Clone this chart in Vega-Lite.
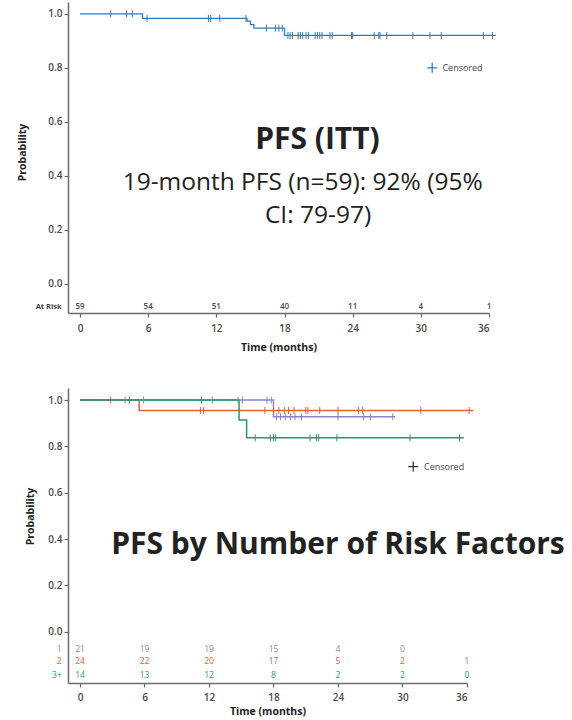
{
  "$schema": "https://vega.github.io/schema/vega-lite/v6.json",
  "padding": {"left": 17, "top": 2, "right": 0, "bottom": 0},
  "spacing": 35,
  "config": {
    "view": {"stroke": null},
    "font": "Open Sans",
    "axis": {
      "grid": false,
      "domainColor": "#6b6b6b",
      "domainWidth": 1.5,
      "tickColor": "#6b6b6b",
      "tickWidth": 1.2,
      "tickSize": 4,
      "labelFont": "Open Sans",
      "labelFontSize": 10,
      "labelFontWeight": 600,
      "labelColor": "#4a4a4a",
      "titleFont": "Open Sans",
      "titleFontSize": 10.5,
      "titleFontWeight": "bold",
      "titleColor": "#222222"
    }
  },
  "datasets": {
    "itt_curve": [
      {"t": 0, "s": 1},
      {"t": 5.5, "s": 0.983},
      {"t": 14.7, "s": 0.973},
      {"t": 15.0, "s": 0.96},
      {"t": 15.3, "s": 0.947},
      {"t": 18.0, "s": 0.92},
      {"t": 36.6, "s": 0.92}
    ],
    "itt_cens": [
      {"t": 2.7, "s": 1}, {"t": 4.1, "s": 1}, {"t": 4.6, "s": 1},
      {"t": 5.9, "s": 0.983}, {"t": 11.3, "s": 0.983}, {"t": 11.5, "s": 0.983}, {"t": 12.3, "s": 0.983}, {"t": 14.6, "s": 0.983},
      {"t": 16.4, "s": 0.947}, {"t": 17.2, "s": 0.947}, {"t": 17.5, "s": 0.947}, {"t": 17.8, "s": 0.947},
      {"t": 18.3, "s": 0.92}, {"t": 18.5, "s": 0.92}, {"t": 18.7, "s": 0.92}, {"t": 19.2, "s": 0.92}, {"t": 19.4, "s": 0.92},
      {"t": 19.6, "s": 0.92}, {"t": 19.9, "s": 0.92}, {"t": 20.1, "s": 0.92}, {"t": 20.7, "s": 0.92}, {"t": 20.9, "s": 0.92},
      {"t": 21.1, "s": 0.92}, {"t": 21.3, "s": 0.92}, {"t": 22.0, "s": 0.92}, {"t": 22.2, "s": 0.92}, {"t": 23.9, "s": 0.92},
      {"t": 24.0, "s": 0.92}, {"t": 25.9, "s": 0.92}, {"t": 26.3, "s": 0.92}, {"t": 26.4, "s": 0.92}, {"t": 27.0, "s": 0.92},
      {"t": 29.3, "s": 0.92}, {"t": 30.8, "s": 0.92}, {"t": 31.8, "s": 0.92}, {"t": 35.5, "s": 0.92}, {"t": 36.3, "s": 0.92}
    ],
    "itt_risk": [
      {"t": 0, "n": 59}, {"t": 6, "n": 54}, {"t": 12, "n": 51}, {"t": 18, "n": 40},
      {"t": 24, "n": 11}, {"t": 30, "n": 4}, {"t": 36, "n": 1}
    ],
    "rf_curve": [
      {"group": "1", "t": 0, "s": 1}, {"group": "1", "t": 18.0, "s": 0.928}, {"group": "1", "t": 29.3, "s": 0.928},
      {"group": "2", "t": 0, "s": 1}, {"group": "2", "t": 5.5, "s": 0.955}, {"group": "2", "t": 36.6, "s": 0.955},
      {"group": "3+", "t": 0, "s": 1}, {"group": "3+", "t": 14.8, "s": 0.914}, {"group": "3+", "t": 15.5, "s": 0.837}, {"group": "3+", "t": 35.7, "s": 0.837}
    ],
    "rf_cens": [
      {"group": "1", "t": 4.2, "s": 1}, {"group": "1", "t": 5.9, "s": 1}, {"group": "1", "t": 12.3, "s": 1}, {"group": "1", "t": 14.7, "s": 1},
      {"group": "1", "t": 15.1, "s": 1}, {"group": "1", "t": 17.4, "s": 1}, {"group": "1", "t": 17.8, "s": 1},
      {"group": "1", "t": 18.3, "s": 0.928}, {"group": "1", "t": 18.65, "s": 0.928}, {"group": "1", "t": 19.1, "s": 0.928},
      {"group": "1", "t": 19.6, "s": 0.928}, {"group": "1", "t": 20.0, "s": 0.928}, {"group": "1", "t": 20.6, "s": 0.928},
      {"group": "1", "t": 24.0, "s": 0.928}, {"group": "1", "t": 26.4, "s": 0.928}, {"group": "1", "t": 27.0, "s": 0.928},
      {"group": "1", "t": 29.1, "s": 0.928},
      {"group": "2", "t": 2.85, "s": 1},
      {"group": "2", "t": 11.2, "s": 0.955}, {"group": "2", "t": 11.5, "s": 0.955}, {"group": "2", "t": 17.2, "s": 0.955},
      {"group": "2", "t": 18.0, "s": 0.955}, {"group": "2", "t": 18.5, "s": 0.955}, {"group": "2", "t": 19.0, "s": 0.955},
      {"group": "2", "t": 19.4, "s": 0.955}, {"group": "2", "t": 19.9, "s": 0.955}, {"group": "2", "t": 21.0, "s": 0.955},
      {"group": "2", "t": 21.2, "s": 0.955}, {"group": "2", "t": 22.3, "s": 0.955}, {"group": "2", "t": 24.0, "s": 0.955},
      {"group": "2", "t": 25.9, "s": 0.955}, {"group": "2", "t": 26.3, "s": 0.955}, {"group": "2", "t": 31.7, "s": 0.955},
      {"group": "2", "t": 36.2, "s": 0.955},
      {"group": "3+", "t": 4.6, "s": 1}, {"group": "3+", "t": 11.3, "s": 1},
      {"group": "3+", "t": 16.3, "s": 0.837}, {"group": "3+", "t": 17.7, "s": 0.837}, {"group": "3+", "t": 18.0, "s": 0.837},
      {"group": "3+", "t": 18.2, "s": 0.837}, {"group": "3+", "t": 21.4, "s": 0.837}, {"group": "3+", "t": 22.0, "s": 0.837},
      {"group": "3+", "t": 22.2, "s": 0.837}, {"group": "3+", "t": 23.9, "s": 0.837}, {"group": "3+", "t": 30.7, "s": 0.837},
      {"group": "3+", "t": 35.3, "s": 0.837}
    ],
    "rf_risk": [
      {"group": "1", "t": 0, "n": 21}, {"group": "1", "t": 6, "n": 19}, {"group": "1", "t": 12, "n": 19}, {"group": "1", "t": 18, "n": 15},
      {"group": "1", "t": 24, "n": 4}, {"group": "1", "t": 30, "n": 0},
      {"group": "2", "t": 0, "n": 24}, {"group": "2", "t": 6, "n": 22}, {"group": "2", "t": 12, "n": 20}, {"group": "2", "t": 18, "n": 17},
      {"group": "2", "t": 24, "n": 5}, {"group": "2", "t": 30, "n": 2}, {"group": "2", "t": 36, "n": 1},
      {"group": "3+", "t": 0, "n": 14}, {"group": "3+", "t": 6, "n": 13}, {"group": "3+", "t": 12, "n": 12}, {"group": "3+", "t": 18, "n": 8},
      {"group": "3+", "t": 24, "n": 2}, {"group": "3+", "t": 30, "n": 2}, {"group": "3+", "t": 36, "n": 0}
    ]
  },
  "vconcat": [
    {
      "width": 421,
      "height": 311,
      "layer": [
        {
          "data": {"name": "itt_curve"},
          "mark": {"type": "line", "interpolate": "step-after", "color": "#2f7dbf", "strokeWidth": 1.3},
          "encoding": {
            "x": {"field": "t", "type": "quantitative",
              "scale": {"domain": [-1.06, 36], "nice": false, "zero": false},
              "axis": {"values": [0, 6, 12, 18, 24, 30, 36], "title": "Time (months)", "titlePadding": 9, "labelPadding": 6}},
            "y": {"field": "s", "type": "quantitative",
              "scale": {"domain": [-0.109, 1.044], "nice": false, "zero": false},
              "axis": {"values": [0, 0.2, 0.4, 0.6, 0.8, 1], "format": ".1f", "title": "Probability", "titleX": -41, "titleY": 150, "labelPadding": 2}}
          }
        },
        {
          "data": {"name": "itt_cens"},
          "mark": {"type": "point", "shape": "M0,-1V1", "size": 49, "filled": false, "stroke": "#2f7dbf", "strokeWidth": 1, "opacity": 1},
          "encoding": {
            "x": {"field": "t", "type": "quantitative"},
            "y": {"field": "s", "type": "quantitative"}
          }
        },
        {
          "data": {"name": "itt_risk"},
          "mark": {"type": "text", "fontSize": 8, "color": "#4a4a4a", "fontWeight": 600},
          "encoding": {
            "x": {"field": "t", "type": "quantitative"},
            "y": {"datum": -0.085, "type": "quantitative"},
            "text": {"field": "n"}
          }
        },
        {
          "data": {"values": [{}]},
          "mark": {"type": "text", "text": "At Risk", "align": "right", "fontSize": 7.5, "fontWeight": "bold", "color": "#444444"},
          "encoding": {"x": {"datum": -1.62, "type": "quantitative"}, "y": {"datum": -0.085, "type": "quantitative"}}
        },
        {
          "data": {"values": [{}]},
          "mark": {"type": "point", "shape": "M-1,0H1M0,-1V1", "size": 100, "filled": false, "stroke": "#2f7dbf", "strokeWidth": 1.3, "opacity": 1},
          "encoding": {"x": {"datum": 31.0, "type": "quantitative"}, "y": {"datum": 0.8, "type": "quantitative"}}
        },
        {
          "data": {"values": [{}]},
          "mark": {"type": "text", "text": "Censored", "align": "left", "fontSize": 9, "color": "#444444"},
          "encoding": {"x": {"datum": 31.9, "type": "quantitative"}, "y": {"datum": 0.8, "type": "quantitative"}}
        },
        {
          "data": {"values": [{}]},
          "mark": {"type": "text", "text": "PFS (ITT)", "align": "center", "baseline": "middle", "fontSize": 30, "fontWeight": "bold", "color": "#222222"},
          "encoding": {"x": {"datum": 20.9, "type": "quantitative"}, "y": {"datum": 0.533, "type": "quantitative"}}
        },
        {
          "data": {"values": [{}]},
          "mark": {"type": "text", "text": "19-month PFS (n=59): 92% (95%", "align": "center", "baseline": "middle", "fontSize": 24.5, "color": "#222222"},
          "encoding": {"x": {"datum": 19.6, "type": "quantitative"}, "y": {"datum": 0.374, "type": "quantitative"}}
        },
        {
          "data": {"values": [{}]},
          "mark": {"type": "text", "text": "CI: 79-97)", "align": "center", "baseline": "middle", "fontSize": 24.5, "color": "#222222"},
          "encoding": {"x": {"datum": 20.95, "type": "quantitative"}, "y": {"datum": 0.252, "type": "quantitative"}}
        }
      ]
    },
    {
      "width": 399,
      "height": 295,
      "layer": [
        {
          "data": {"name": "rf_curve"},
          "mark": {"type": "line", "interpolate": "step-after", "strokeWidth": 1.5},
          "encoding": {
            "x": {"field": "t", "type": "quantitative",
              "scale": {"domain": [-1.115, 36], "nice": false, "zero": false},
              "axis": {"values": [0, 6, 12, 18, 24, 30, 36], "title": "Time (months)", "titlePadding": 4, "labelPadding": 5}},
            "y": {"field": "s", "type": "quantitative",
              "scale": {"domain": [-0.221, 1.052], "nice": false, "zero": false},
              "axis": {"values": [0, 0.2, 0.4, 0.6, 0.8, 1], "format": ".1f", "title": "Probability", "titleX": -33, "titleY": 128, "labelPadding": 2}},
            "color": {"field": "group", "type": "nominal",
              "scale": {"domain": ["1", "2", "3+"], "range": ["#8a84c8", "#e2603a", "#1f9d6b"]}, "legend": null}
          }
        },
        {
          "data": {"name": "rf_cens"},
          "mark": {"type": "point", "shape": "M0,-1V1", "size": 49, "filled": false, "strokeWidth": 1, "opacity": 1},
          "encoding": {
            "x": {"field": "t", "type": "quantitative"},
            "y": {"field": "s", "type": "quantitative"},
            "stroke": {"field": "group", "type": "nominal",
              "scale": {"domain": ["1", "2", "3+"], "range": ["#8a84c8", "#e2603a", "#1f9d6b"]}, "legend": null}
          }
        },
        {
          "data": {"name": "rf_risk"},
          "transform": [{"filter": "datum.group === '1'"}],
          "mark": {"type": "text", "fontSize": 8.5, "color": "#8a84c8"},
          "encoding": {
            "x": {"field": "t", "type": "quantitative"},
            "y": {"datum": -0.073, "type": "quantitative"},
            "text": {"field": "n"}
          }
        },
        {
          "data": {"name": "rf_risk"},
          "transform": [{"filter": "datum.group === '2'"}],
          "mark": {"type": "text", "fontSize": 8.5, "color": "#e2603a"},
          "encoding": {
            "x": {"field": "t", "type": "quantitative"},
            "y": {"datum": -0.128, "type": "quantitative"},
            "text": {"field": "n"}
          }
        },
        {
          "data": {"name": "rf_risk"},
          "transform": [{"filter": "datum.group === '3+'"}],
          "mark": {"type": "text", "fontSize": 8.5, "color": "#1f9d6b"},
          "encoding": {
            "x": {"field": "t", "type": "quantitative"},
            "y": {"datum": -0.185, "type": "quantitative"},
            "text": {"field": "n"}
          }
        },
        {
          "data": {"values": [{}]},
          "mark": {"type": "text", "text": "1", "align": "right", "fontSize": 8.5, "color": "#8a84c8"},
          "encoding": {"x": {"datum": -1.7, "type": "quantitative"}, "y": {"datum": -0.073, "type": "quantitative"}}
        },
        {
          "data": {"values": [{}]},
          "mark": {"type": "text", "text": "2", "align": "right", "fontSize": 8.5, "color": "#e2603a"},
          "encoding": {"x": {"datum": -1.7, "type": "quantitative"}, "y": {"datum": -0.128, "type": "quantitative"}}
        },
        {
          "data": {"values": [{}]},
          "mark": {"type": "text", "text": "3+", "align": "right", "fontSize": 8.5, "color": "#1f9d6b"},
          "encoding": {"x": {"datum": -1.7, "type": "quantitative"}, "y": {"datum": -0.185, "type": "quantitative"}}
        },
        {
          "data": {"values": [{}]},
          "mark": {"type": "point", "shape": "M-1,0H1M0,-1V1", "size": 100, "filled": false, "stroke": "#333333", "strokeWidth": 1.3, "opacity": 1},
          "encoding": {"x": {"datum": 31.0, "type": "quantitative"}, "y": {"datum": 0.713, "type": "quantitative"}}
        },
        {
          "data": {"values": [{}]},
          "mark": {"type": "text", "text": "Censored", "align": "left", "fontSize": 9, "color": "#444444"},
          "encoding": {"x": {"datum": 32.0, "type": "quantitative"}, "y": {"datum": 0.713, "type": "quantitative"}}
        },
        {
          "data": {"values": [{}]},
          "mark": {"type": "text", "text": "PFS by Number of Risk Factors", "align": "center", "baseline": "middle", "fontSize": 30, "fontWeight": "bold", "color": "#222222"},
          "encoding": {"x": {"datum": 24.0, "type": "quantitative"}, "y": {"datum": 0.375, "type": "quantitative"}}
        }
      ]
    }
  ]
}
